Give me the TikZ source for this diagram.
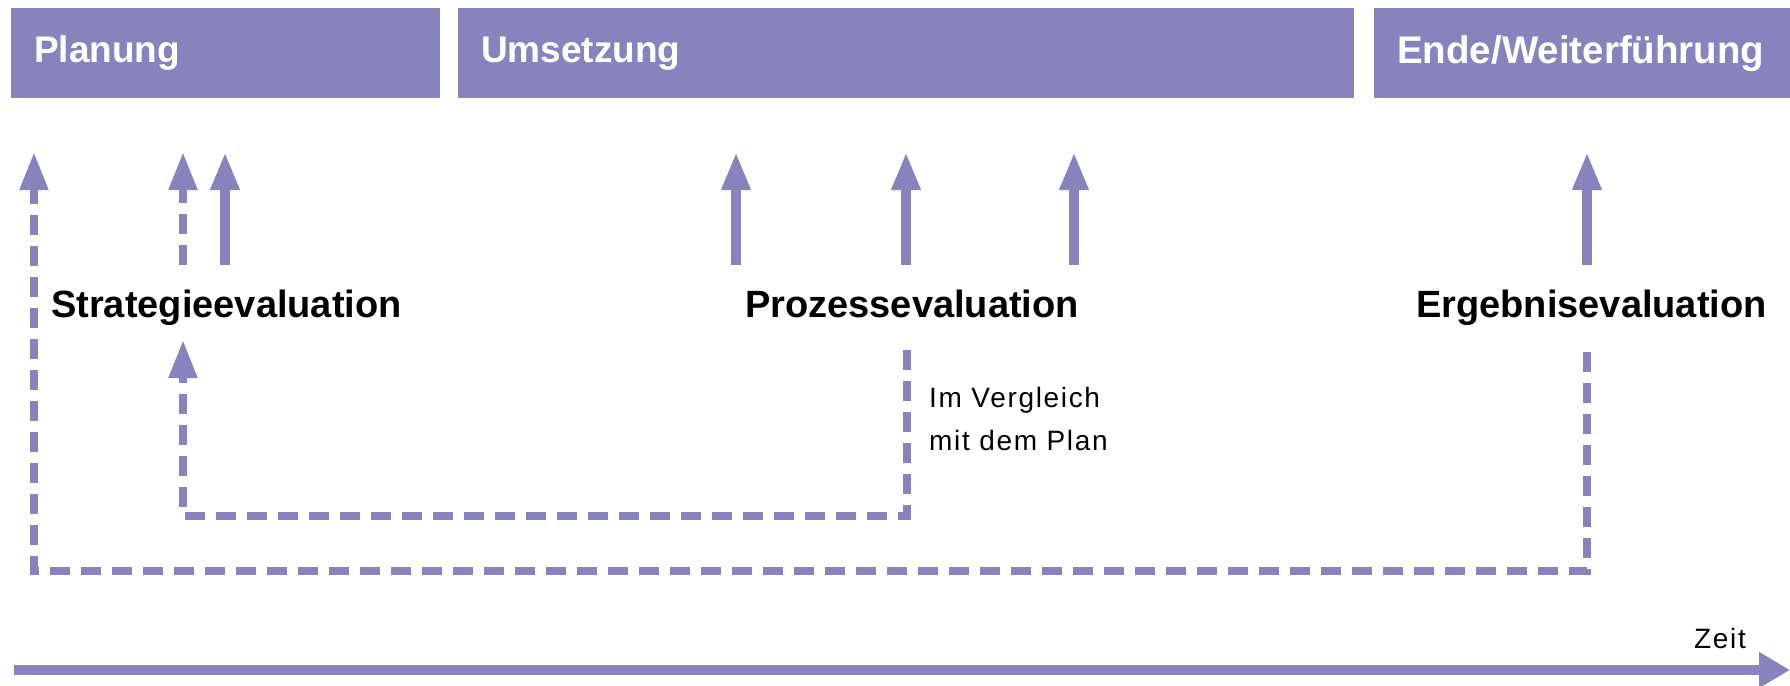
\documentclass[tikz,border=0pt]{standalone}
\usepackage{fontspec}
\setmainfont{Liberation Sans}
\newfontfamily\smallfont[LetterSpace=6]{Liberation Sans}
\usetikzlibrary{arrows.meta}
\definecolor{lila}{HTML}{8882BD}
\begin{document}
\begin{tikzpicture}[x=1pt,y=-1pt,
  hdr/.style={fill=lila, text=white, font=\fontsize{37}{44}\selectfont\bfseries,
    anchor=north west, minimum height=90pt, inner xsep=23pt, inner ysep=0pt, align=left},
  lbl/.style={font=\fontsize{38}{44}\selectfont\bfseries, anchor=base west, inner sep=0pt},
  note/.style={font=\smallfont\fontsize{28}{43}\selectfont, anchor=base west, inner sep=0pt, align=left},
  tipstyle/.style={-{Triangle[length=38pt,width=27pt]}},
  solidarrow/.style={draw=lila, line width=10pt, tipstyle},
  dasharrow/.style={draw=lila, line width=8pt, dash pattern=on 20pt off 11pt, tipstyle},
  axisarrow/.style={draw=lila, line width=10pt, -{Triangle[length=31pt,width=34pt]}},
]
\useasboundingbox (0,0) rectangle (1790,685);

% header boxes
\node[hdr, text width=383pt] (plan) at (11,8) {Planung};
\node[hdr, text width=850pt] (ums) at (458,8) {Umsetzung};
\node[hdr, text width=370pt, font=\fontsize{38.5}{44}\selectfont\bfseries] (ende) at (1374,8) {Ende/Weiterführung};

% labels
\node[lbl] (strat) at (51,317) {Strategieevaluation};
\node[lbl] (proz) at (745,317) {Prozessevaluation};
\node[lbl] (erg) at (1416,317) {Ergebnisevaluation};
\node[note] (vergl) at (929,450) {Im Vergleich\\mit dem Plan};
\node[note] (zeit) at (1694,648) {Zeit};

% arrow coordinates
\coordinate (t1) at (34,152);
\coordinate (t2) at (183,152);  \coordinate (b2) at (183,265);
\coordinate (t3) at (225,152);  \coordinate (b3) at (225,265);
\coordinate (t4) at (736,152);  \coordinate (b4) at (736,265);
\coordinate (t5) at (906,152);  \coordinate (b5) at (906,265);
\coordinate (t6) at (1074,152); \coordinate (b6) at (1074,265);
\coordinate (t7) at (1587,152); \coordinate (b7) at (1587,265);

% loop coordinates
\coordinate (p1) at (907,350);
\coordinate (p2) at (907,516);
\coordinate (p3) at (183,516);
\coordinate (p4) at (183,340);
\coordinate (e1) at (1587,352);
\coordinate (e2) at (1587,571);
\coordinate (e3) at (34,571);

\coordinate (z0) at (14,670);
\coordinate (z1) at (1790,670);

% upward arrows
\draw[dasharrow] (b2) -- (t2);
\draw[solidarrow] (b3) -- (t3);
\draw[solidarrow] (b4) -- (t4);
\draw[solidarrow] (b5) -- (t5);
\draw[solidarrow] (b6) -- (t6);
\draw[solidarrow] (b7) -- (t7);

% feedback loops
\draw[dasharrow] (p1) -- (p2) -- (p3) -- (p4);
\draw[dasharrow] (e1) -- (e2) -- (e3) -- (t1);

% time axis
\draw[axisarrow] (z0) -- (z1);
\end{tikzpicture}
\end{document}
